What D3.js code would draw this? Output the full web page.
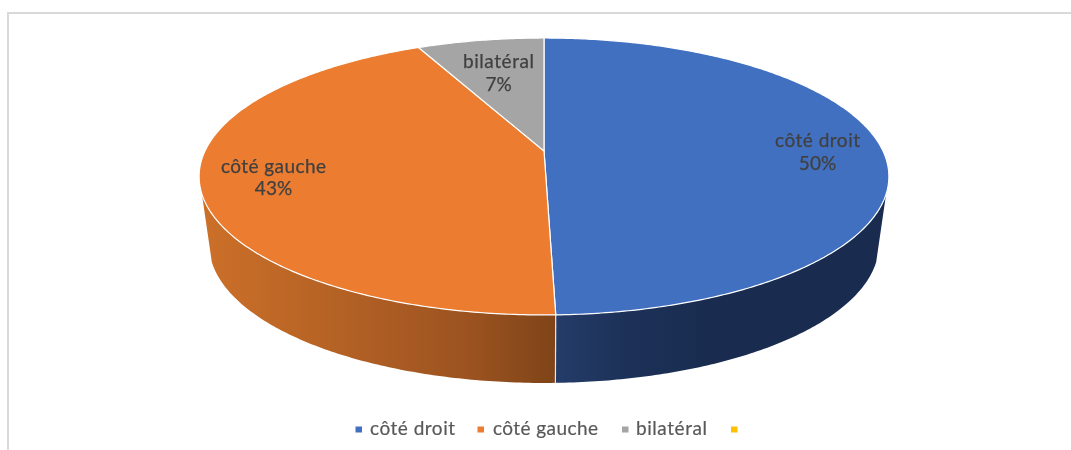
<!DOCTYPE html>
<html><head><meta charset="utf-8">
<script src="https://cdn.jsdelivr.net/npm/d3@7"></script>
<style>html,body{margin:0;padding:0;background:#fff}svg{display:block}text{font-family:Lato,sans-serif}</style>
</head><body><svg id="c" width="1071" height="450"></svg>
<script>
const categories = ["côté droit", "côté gauche", "bilatéral", ""];
const values = [49.55, 43.35, 7.1, 0];
const colors = ["#4270c0", "#eb7c30", "#a5a5a5", "#ffc000"];
const labelPos = [[817.5, 141, 164], [273.5, 167, 189], [498.5, 62, 85]];
const legendPos = [[355.5, 370, 85], [477.5, 493, 105], [622, 636, 71], [731, null, 0]];

const svg = d3.select("#c");
const defs = svg.append("defs");
const blur = defs.append("filter").attr("id", "soft").attr("x", "-5%").attr("y", "-20%").attr("width", "110%").attr("height", "140%");
blur.append("feGaussianBlur").attr("stdDeviation", 0.45);

const cx = 544, k = -0.184, d = 339, a = 106, b = 151, depth = 68, shrink = 0.971;
const topPt = t => {
  const u = Math.sin(t), v = -Math.cos(t), w = 1 + k * v;
  return [cx + d * u / w, (a * v + b) / w];
};
const lowPt = t => { const p = topPt(t); return [cx + (p[0] - cx) * shrink, p[1] + depth]; };
const samples = (t0, t1, f) => {
  const n = Math.max(2, Math.ceil(Math.abs(t1 - t0) * 90));
  return d3.range(n + 1).map(i => f(t0 + (t1 - t0) * i / n));
};
const line = d3.line();
const arcs = d3.pie().sort(null).startAngle(0).endAngle(2 * Math.PI)(values);

// frame
svg.append("path").attr("d", "M8 450V13H1071").attr("fill", "none").attr("stroke", "#d9d9d9").attr("stroke-width", 2);

// gradients for the side walls
const grad = (id, stops, x1, x2) => {
  const g = defs.append("linearGradient").attr("id", id).attr("gradientUnits", "userSpaceOnUse")
    .attr("x1", x1).attr("x2", x2).attr("y1", 0).attr("y2", 0);
  stops.forEach(s => g.append("stop").attr("offset", s[0]).attr("stop-color", s[1]));
};
grad("wallO", [[0, "#cc7029"], [0.45, "#b05f24"], [0.75, "#9c5320"], [1, "#7f4418"]], 201, 556);
grad("wallB", [[0, "#243c69"], [0.2, "#1d3259"], [0.45, "#192c50"], [1, "#192c50"]], 556, 887);

const wallStart = 1.879, wallEnd = 4.404;
const wall = (t0, t1, fill) => svg.append("path")
  .attr("d", line(samples(t0, t1, topPt).concat(samples(t1, t0, lowPt))) + "Z")
  .attr("fill", fill);
wall(wallStart, arcs[0].endAngle, "url(#wallB)");
wall(arcs[0].endAngle, wallEnd, "url(#wallO)");
svg.append("path")
  .attr("d", line([topPt(arcs[0].endAngle), lowPt(arcs[0].endAngle)]))
  .attr("stroke", "#f0e6e0").attr("stroke-width", 1.2).attr("fill", "none");

// top face
const apex = [cx, b];
svg.selectAll("path.slice").data(arcs.filter(s => s.value > 0)).join("path")
  .attr("class", "slice")
  .attr("d", s => line([apex].concat(samples(s.startAngle, s.endAngle, topPt))) + "Z")
  .attr("fill", (s, i) => colors[i])
  .attr("stroke", "#fff").attr("stroke-width", 1.2).attr("stroke-linejoin", "round");

// data labels
const lab = svg.append("g").attr("filter", "url(#soft)").attr("fill", "#404040")
  .attr("stroke", "#404040").attr("stroke-width", 0.25)
  .attr("text-anchor", "middle").attr("font-size", 19);
labelPos.forEach((p, i) => {
  lab.append("text").attr("x", p[0]).attr("y", p[1] + 6)
    .attr("textLength", legendPos[i][2]).attr("lengthAdjust", "spacing").text(categories[i]);
  lab.append("text").attr("x", p[0]).attr("y", p[2] + 6).text(Math.round(values[i]) + "%");
});

// legend
const leg = svg.append("g").attr("filter", "url(#soft)");
categories.forEach((c, i) => {
  const p = legendPos[i];
  leg.append("rect").attr("x", p[0]).attr("y", 426.5).attr("width", 6.5).attr("height", 6).attr("fill", colors[i]);
  if (c) leg.append("text").attr("x", p[1]).attr("y", 434.5).attr("font-size", 19)
    .attr("fill", "#595959").attr("stroke", "#595959").attr("stroke-width", 0.2)
    .attr("textLength", p[2]).attr("lengthAdjust", "spacing").text(c);
});
</script></body></html>
